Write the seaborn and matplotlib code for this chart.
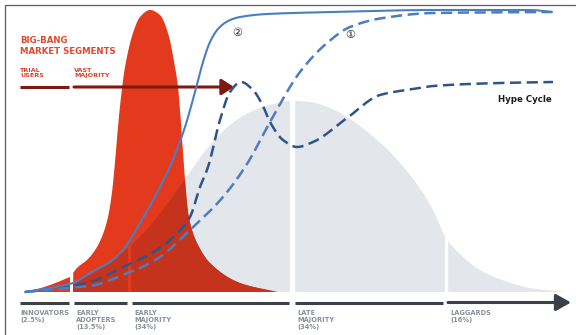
import numpy as np
import matplotlib
matplotlib.use("Agg")
import matplotlib.pyplot as plt
import seaborn as sns

# ---------------------------------------------------------------------------
# Data: horizontal axis = market time, vertical axis = height above baseline
# ---------------------------------------------------------------------------
# Big-bang market (red spike), trial-user sliver then vast majority
trial_x = [28, 50, 70]
trial_h = [0, 7, 15]
bigbang_x = [73, 77, 88, 97, 103, 108, 112, 115, 118, 121, 125, 133, 140,
             150, 160, 168, 175, 178, 180, 183, 186, 188, 192, 197, 210, 240,
             277]
bigbang_h = [19, 24, 33, 45, 58, 75, 100, 130, 165, 195, 225, 259, 275,
             282, 277, 259, 225, 205, 182, 140, 100, 80, 62, 49, 29, 9, 0]

# Classic diffusion-of-innovation bell (grey)
rogers_x = [73, 90, 110, 130, 150, 170, 190, 210, 230, 250, 270, 292, 310,
            330, 350, 370, 390, 410, 425, 435, 446, 460, 480, 505, 530, 565]
rogers_h = [8, 17, 30, 46, 66, 92, 120, 147, 167, 180, 187, 191, 190,
            184, 173, 158, 140, 117, 96, 78, 54, 38, 22, 11, 4, 0]

# Segment boundaries (white dividers) and segment labels
segment_start = [20, 74, 132, 295, 448]
segment_end = [69, 127, 289, 443, 571]
segment_labels = ["INNOVATORS\n(2.5%)", "EARLY\nADOPTERS\n(13.5%)",
                  "EARLY\nMAJORITY\n(34%)", "LATE\nMAJORITY\n(34%)",
                  "LAGGARDS\n(16%)"]
divider_gaps = [(70, 73), (128, 131), (290, 295), (445, 448)]

# Adoption curves
curve2_x = [25, 50, 73, 90, 110, 123, 140, 157, 172, 185, 195, 203, 210,
            218, 228, 240, 267, 333, 433, 530, 552]
curve2_h = [0, 4, 9, 19, 30, 42, 69, 99, 130, 165, 200, 230, 250,
            263, 271, 275, 278, 280, 282, 282, 280]

curve1_x = [25, 67, 90, 123, 157, 190, 223, 247, 270, 300, 327, 350, 383,
            433, 552]
curve1_h = [0, 4, 6, 17, 33, 62, 95, 128, 170, 220, 249, 265, 274, 279, 280]

hype_x = [25, 60, 90, 123, 157, 183, 190, 200, 208, 220, 230, 241, 253, 262,
          270, 283, 297, 313, 347, 380, 413, 433, 500, 553]
hype_h = [0, 4, 10, 25, 42, 65, 75, 105, 125, 172, 200, 210, 202, 188,
          170, 152, 145, 150, 174, 197, 203, 206, 209, 210]

# Colours
RED = "#e33a1d"
RED_DARK = "#c6331d"
GREY = "#e3e6ea"
MAROON = "#7c1a12"
BAR = "#3c4147"
LABEL_GREY = "#8b9096"
BLUE = "#4a7ec2"
BLUE_DASH = "#4b7dc0"
NAVY = "#2e5589"


def pchip(xk, yk, xq):
    """Shape-preserving cubic through the given knots."""
    xk = np.asarray(xk, float)
    yk = np.asarray(yk, float)
    h = np.diff(xk)
    d = np.diff(yk) / h
    m = np.zeros_like(yk)
    for k in range(1, len(xk) - 1):
        if d[k - 1] * d[k] > 0:
            w1 = 2 * h[k] + h[k - 1]
            w2 = h[k] + 2 * h[k - 1]
            m[k] = (w1 + w2) / (w1 / d[k - 1] + w2 / d[k])
    m[0], m[-1] = d[0], d[-1]
    i = np.clip(np.searchsorted(xk, xq) - 1, 0, len(h) - 1)
    t = (xq - xk[i]) / h[i]
    h00 = 2 * t**3 - 3 * t**2 + 1
    h10 = t**3 - 2 * t**2 + t
    h01 = -2 * t**3 + 3 * t**2
    h11 = t**3 - t**2
    return h00 * yk[i] + h10 * h[i] * m[i] + h01 * yk[i + 1] + h11 * h[i] * m[i + 1]


def band(xs, xk, yk):
    out = np.full_like(xs, np.nan)
    sel = (xs >= xk[0]) & (xs <= xk[-1])
    out[sel] = pchip(xk, yk, xs[sel])
    return out


sns.set_theme(style="white")
plt.rcParams["font.family"] = ["DejaVu Sans", "Noto Sans CJK JP"]

fig = plt.figure(figsize=(5.76, 3.35), dpi=100)
ax = fig.add_axes([0, 0, 1, 1])
ax.set_xlim(0, 576)
ax.set_ylim(-43, 292)
ax.axis("off")

xs = np.arange(20, 572, 0.2)
red = np.fmax(band(xs, trial_x, trial_h), band(xs, bigbang_x, bigbang_h))
grey = band(xs, rogers_x, rogers_h)
for a, b in divider_gaps:
    gap = (xs > a) & (xs < b)
    grey[gap] = np.nan
    if a == divider_gaps[0][0]:
        red[gap] = np.nan

grey_ok = ~np.isnan(grey)
red_ok = ~np.isnan(red)
ax.fill_between(xs, 0, np.nan_to_num(grey), where=grey_ok, color=GREY,
                lw=0, zorder=1)
ax.fill_between(xs, 0, np.nan_to_num(red), where=red_ok, color=RED,
                lw=0, zorder=2)
both = grey_ok & red_ok
overlap = np.minimum(np.nan_to_num(grey), np.nan_to_num(red))
ax.fill_between(xs, 0, overlap, where=both, color=RED_DARK, lw=0, zorder=3)

# Frame
ax.plot([5, 576], [287, 287], color="#5c5c5c", lw=0.9, zorder=10)
ax.plot([5, 5], [287, -43], color="#5c5c5c", lw=0.9, zorder=10)

# Big-bang segment bars
ax.plot([20, 69], [205, 205], color=MAROON, lw=2.2, solid_capstyle="butt",
        zorder=4)
ax.annotate("", xy=(234, 205), xytext=(74, 205), zorder=4,
            arrowprops=dict(arrowstyle="-|>,head_length=0.62,head_width=0.4",
                            mutation_scale=12, lw=2.2, color=MAROON,
                            shrinkA=0, shrinkB=0))

# Market segment bars and labels
for i, (s, e, lab) in enumerate(zip(segment_start, segment_end, segment_labels)):
    if i < len(segment_start) - 1:
        ax.plot([s, e], [-10.5, -10.5], color=BAR, lw=2.2,
                solid_capstyle="butt", zorder=4)
    else:
        ax.annotate("", xy=(e, -10.5), xytext=(s, -10.5), zorder=4,
                    arrowprops=dict(arrowstyle="-|>,head_length=0.75,head_width=0.42",
                                    mutation_scale=12, lw=2.2, color=BAR,
                                    shrinkA=0, shrinkB=0))
    ax.text(s + (0 if i == 0 else 2), -18, lab, ha="left", va="top",
            fontsize=4.8, fontweight="bold", color=LABEL_GREY,
            linespacing=1.15, zorder=6)

# Adoption curves
for cx, ch, col, lw, ls in [
    (hype_x, hype_h, NAVY, 1.8, (0, (4.5, 2.2))),
    (curve1_x, curve1_h, BLUE_DASH, 1.8, (0, (4.5, 2.2))),
    (curve2_x, curve2_h, BLUE, 1.5, "-"),
]:
    xq = np.linspace(cx[0], cx[-1], 700)
    sns.lineplot(x=xq, y=pchip(cx, ch, xq), ax=ax, color=col, lw=lw,
                 linestyle=ls, zorder=5)

# Titles and annotations
ax.text(20, 256, "BIG-BANG\nMARKET SEGMENTS", ha="left", va="top",
        fontsize=6.2, fontweight="bold", color="#e4472f", linespacing=1.3,
        zorder=6)
ax.text(20, 224, "TRIAL\nUSERS", ha="left", va="top", fontsize=4.6,
        fontweight="bold", color="#d4422c", linespacing=1.1, zorder=6)
ax.text(74, 224, "VAST\nMAJORITY", ha="left", va="top", fontsize=4.6,
        fontweight="bold", color="#d4422c", linespacing=1.1, zorder=6)
ax.text(237, 259, "②", ha="center", va="center", fontsize=8,
        color="#222222", zorder=6)
ax.text(350, 257, "①", ha="center", va="center", fontsize=8,
        color="#222222", zorder=6)
ax.text(552, 192, "Hype Cycle", ha="right", va="center", fontsize=6.2,
        fontweight="bold", color="#1c1c1c", zorder=6)

fig.savefig("out.png", dpi=100)
